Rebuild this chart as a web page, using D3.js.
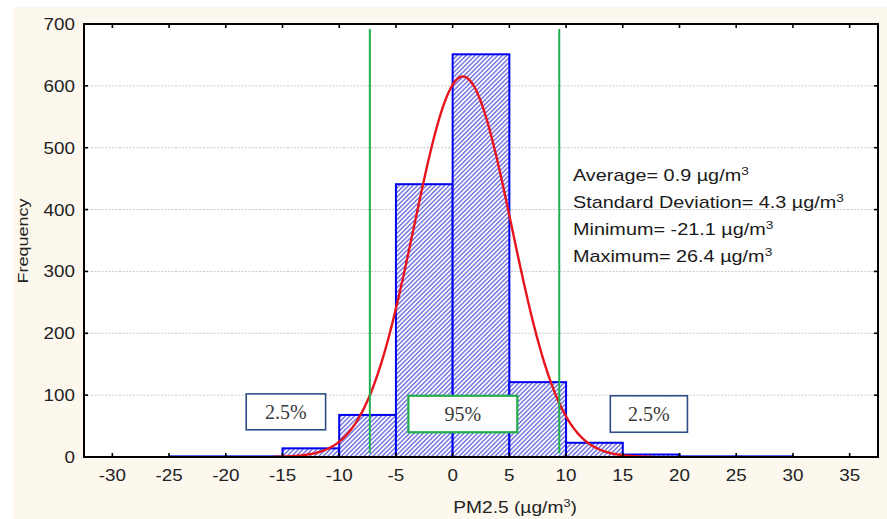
<!DOCTYPE html>
<html>
<head>
<meta charset="utf-8">
<script src="https://cdn.jsdelivr.net/npm/d3@7"></script>
<style>
  html, body { margin: 0; padding: 0; background: #ffffff; }
  svg { display: block; }
</style>
</head>
<body>
<svg id="chart" width="887" height="519"></svg>
<script>
// Histogram bins of PM2.5 differences (µg/m³) and their counts
const binStarts = [-25, -20, -15, -10, -5, 0, 5, 10, 15, 20, 25];
const binWidth = 5;
const counts = [1, 1, 14, 68, 441, 651, 121, 23, 4, 1, 1];

// Axis ticks
const xTicks = [-30, -25, -20, -15, -10, -5, 0, 5, 10, 15, 20, 25, 30, 35];
const yTicks = [0, 100, 200, 300, 400, 500, 600, 700];

// Summary statistics printed on the chart
const mean = 0.9, sd = 4.3;
const statLines = [
  ["Average= 0.9 µg/m", "3"],
  ["Standard Deviation= 4.3 µg/m", "3"],
  ["Minimum= -21.1 µg/m", "3"],
  ["Maximum= 26.4 µg/m", "3"]
];

// 2.5% / 95% cut-off lines
const cutoffs = [-7.3, 9.4];

// Share labels: box extents in data units, text, kind
const shareBoxes = [
  { x0: -18.2, x1: -11.2, y0: 44, y1: 102, label: "2.5%", kind: "tail" },
  { x0: -3.9, x1: 5.7, y0: 40, y1: 99, label: "95%", kind: "mid" },
  { x0: 13.9, x1: 20.7, y0: 40, y1: 99, label: "2.5%", kind: "tail" }
];

const svg = d3.select("#chart");
const W = 887, H = 519;
const plot = { left: 84, right: 878, top: 24, bottom: 457 };

const x = d3.scaleLinear().domain([-32.5, 37.5]).range([plot.left, plot.right]);
const y = d3.scaleLinear().domain([0, 700]).range([plot.bottom, plot.top]);

// Backgrounds
svg.append("rect").attr("width", W).attr("height", H).attr("fill", "#ffffff");
svg.append("rect").attr("x", 13).attr("y", 7).attr("width", W - 13).attr("height", H - 7)
  .attr("fill", "#fcf8ee");
svg.append("rect")
  .attr("x", plot.left).attr("y", plot.top)
  .attr("width", plot.right - plot.left).attr("height", plot.bottom - plot.top)
  .attr("fill", "#ffffff");

// Hatch fill for the bars
const defs = svg.append("defs");
const pat = defs.append("pattern")
  .attr("id", "hatch").attr("patternUnits", "userSpaceOnUse")
  .attr("width", 3.2).attr("height", 3.2)
  .attr("patternTransform", "rotate(45)");
pat.append("rect").attr("width", 3.2).attr("height", 3.2).attr("fill", "#ffffff");
pat.append("line").attr("x1", 0.8).attr("y1", 0).attr("x2", 0.8).attr("y2", 3.2)
  .attr("stroke", "#4646d8").attr("stroke-width", 1.1);

// Horizontal dotted gridlines
svg.append("g").selectAll("line")
  .data(yTicks.filter(v => v > 0 && v < 700))
  .join("line")
  .attr("x1", plot.left).attr("x2", plot.right)
  .attr("y1", d => y(d)).attr("y2", d => y(d))
  .attr("stroke", "#c8c8c8").attr("stroke-width", 1)
  .attr("stroke-dasharray", "2,1.5");

// Bars
svg.append("g").selectAll("rect")
  .data(binStarts.map((s, i) => ({ s, c: counts[i] })))
  .join("rect")
  .attr("x", d => x(d.s))
  .attr("width", d => x(d.s + binWidth) - x(d.s))
  .attr("y", d => y(d.c))
  .attr("height", d => y(0) - y(d.c))
  .attr("fill", "url(#hatch)")
  .attr("stroke", "#0000f0").attr("stroke-width", 2);

// Fitted normal curve scaled to the histogram
const total = d3.sum(counts);
const normal = v => total * binWidth / (sd * Math.sqrt(2 * Math.PI)) *
  Math.exp(-0.5 * Math.pow((v - mean) / sd, 2));
const curvePts = d3.range(-15.7, 17.65, 0.1);
svg.append("path")
  .datum(curvePts)
  .attr("d", d3.line().x(v => x(v)).y(v => y(normal(v))))
  .attr("fill", "none").attr("stroke", "#e8141c").attr("stroke-width", 2.4);

// Cut-off lines
svg.append("g").selectAll("line")
  .data(cutoffs)
  .join("line")
  .attr("x1", d => x(d)).attr("x2", d => x(d))
  .attr("y1", y(692)).attr("y2", y(6))
  .attr("stroke", "#1fb14f").attr("stroke-width", 2);

// Share boxes
const boxes = svg.append("g").selectAll("g").data(shareBoxes).join("g");
boxes.append("rect")
  .attr("x", d => x(d.x0)).attr("y", d => y(d.y1))
  .attr("width", d => x(d.x1) - x(d.x0)).attr("height", d => y(d.y0) - y(d.y1))
  .attr("fill", "#ffffff")
  .attr("stroke", d => d.kind === "mid" ? "#1fae4a" : "#2e4d86")
  .attr("stroke-width", d => d.kind === "mid" ? 2.2 : 1.6);
boxes.append("text")
  .attr("x", d => (x(d.x0) + x(d.x1)) / 2)
  .attr("y", d => (y(d.y0) + y(d.y1)) / 2 + 7)
  .attr("text-anchor", "middle")
  .attr("font-family", "'Liberation Serif', 'Times New Roman', serif")
  .attr("font-size", 20).attr("fill", "#3a3a3a")
  .text(d => d.label);

// Frame
svg.append("rect")
  .attr("x", plot.left).attr("y", plot.top)
  .attr("width", plot.right - plot.left).attr("height", plot.bottom - plot.top)
  .attr("fill", "none").attr("stroke", "#000000").attr("stroke-width", 2);

// Inward tick marks on all four sides
const tickLen = 4;
const tg = svg.append("g").attr("stroke", "#000000").attr("stroke-width", 1.6);
xTicks.forEach(v => {
  tg.append("line").attr("x1", x(v)).attr("x2", x(v))
    .attr("y1", plot.bottom).attr("y2", plot.bottom - tickLen);
  tg.append("line").attr("x1", x(v)).attr("x2", x(v))
    .attr("y1", plot.top).attr("y2", plot.top + tickLen);
});
yTicks.forEach(v => {
  tg.append("line").attr("x1", plot.left).attr("x2", plot.left + tickLen)
    .attr("y1", y(v)).attr("y2", y(v));
  tg.append("line").attr("x1", plot.right).attr("x2", plot.right - tickLen)
    .attr("y1", y(v)).attr("y2", y(v));
});

// Sans-serif labels are drawn slightly widened along their reading direction
const font = "Arial, 'Liberation Sans', sans-serif";
const widen = 1.14;

// Tick labels
svg.append("g").selectAll("text")
  .data(xTicks).join("text")
  .attr("transform", d => `translate(${x(d)},481) scale(${widen},1)`)
  .attr("text-anchor", "middle")
  .attr("font-family", font).attr("font-size", 16.5).attr("fill", "#222222")
  .text(d => d);
svg.append("g").selectAll("text")
  .data(yTicks).join("text")
  .attr("transform", d => `translate(75,${y(d) + 6}) scale(${widen},1)`)
  .attr("text-anchor", "end")
  .attr("font-family", font).attr("font-size", 16.5).attr("fill", "#222222")
  .text(d => d);

// Axis titles
const xt = svg.append("text")
  .attr("transform", "translate(515,513) scale(1.2,1)")
  .attr("text-anchor", "middle")
  .attr("font-family", font).attr("font-size", 16).attr("fill", "#222222");
xt.append("tspan").text("PM2.5 (µg/m");
xt.append("tspan").attr("font-size", 10.5).attr("dy", -6.5).text("3");
xt.append("tspan").attr("dy", 6.5).text(")");

svg.append("text")
  .attr("transform", "translate(28,241) rotate(-90) scale(1.2,1)")
  .attr("text-anchor", "middle")
  .attr("font-family", font).attr("font-size", 15).attr("fill", "#222222")
  .text("Frequency");

// Statistics block
const st = svg.append("g").selectAll("text")
  .data(statLines).join("text")
  .attr("transform", (d, i) => `translate(573,${181 + i * 27}) scale(1.24,1)`)
  .attr("font-family", font).attr("font-size", 16).attr("fill", "#1a1a1a");
st.append("tspan").text(d => d[0]);
st.append("tspan").attr("font-size", 11).attr("dy", -6.5).text(d => d[1]);
</script>
</body>
</html>
